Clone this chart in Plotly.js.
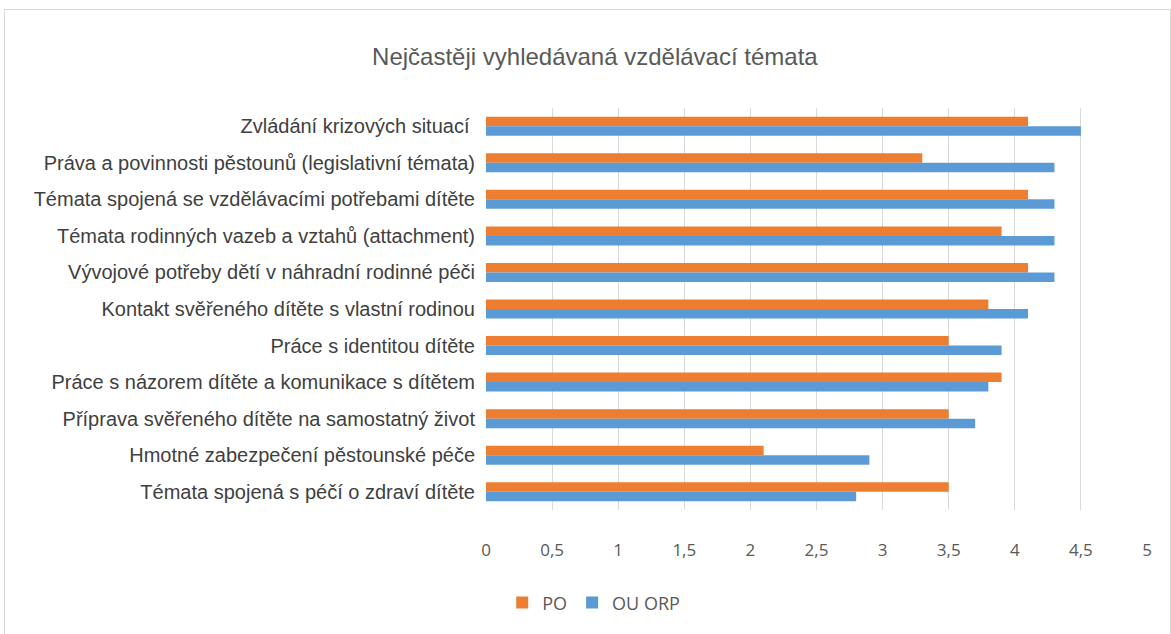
<!DOCTYPE html>
<html><head><meta charset="utf-8">
<script src="https://cdn.plot.ly/plotly-3.0.1.min.js"></script>
<style>body{margin:0;padding:0;background:#fff}#wrap{position:relative;width:1171px;height:634px}#chart{width:1171px;height:634px}#frame{position:absolute;left:4px;top:9px;width:1165px;height:630px;border:1px solid #d9d9d9;pointer-events:none}</style>
</head><body><div id="wrap"><div id="chart"></div><div id="frame"></div></div>
<script>
const categories = [
  "Zvládání krizových situací ",
  "Práva a povinnosti pěstounů (legislativní témata)",
  "Témata spojená se vzdělávacími potřebami dítěte",
  "Témata rodinných vazeb a vztahů (attachment)",
  "Vývojové potřeby dětí v náhradní rodinné péči",
  "Kontakt svěřeného dítěte s vlastní rodinou",
  "Práce s identitou dítěte",
  "Práce s názorem dítěte a komunikace s dítětem",
  "Příprava svěřeného dítěte na samostatný život",
  "Hmotné zabezpečení pěstounské péče",
  "Témata spojená s péčí o zdraví dítěte"
];
const po    = [4.1, 3.3, 4.1, 3.9, 4.1, 3.8, 3.5, 3.9, 3.5, 2.1, 3.5];
const ouOrp = [4.5, 4.3, 4.3, 4.3, 4.3, 4.1, 3.9, 3.8, 3.7, 2.9, 2.8];
const tickVals = [0, 0.5, 1, 1.5, 2, 2.5, 3, 3.5, 4, 4.5, 5];
const tickText = ["0", "0,5", "1", "1,5", "2", "2,5", "3", "3,5", "4", "4,5", "5"];

const font = "'Liberation Sans', Arial, sans-serif";
const data = [
  {type:'bar', orientation:'h', name:'PO', y:categories, x:po, marker:{color:'#ED7D31'}, hoverinfo:'x'},
  {type:'bar', orientation:'h', name:'OU ORP', y:categories, x:ouOrp, marker:{color:'#5B9BD5'}, hoverinfo:'x'}
];
const layout = {
  width:1171, height:634,
  margin:{l:486, r:24, t:108, b:124},
  paper_bgcolor:'#fff', plot_bgcolor:'#fff',
  barmode:'group', bargap:0.48, bargroupgap:0,
  font:{family:font, color:'#595959'},
  title:{text:'Nejčastěji vyhledávaná vzdělávací témata', font:{size:24, color:'#595959', family:font},
         xref:'container', x:0.508, xanchor:'center', yref:'container', y:0.91, yanchor:'middle'},
  xaxis:{range:[0,5], tickvals:tickVals, ticktext:tickText, showgrid:true, gridcolor:'#d9d9d9', gridwidth:1,
         zeroline:false, showline:false, ticks:'outside', ticklen:25, tickcolor:'rgba(0,0,0,0)',
         tickfont:{size:17, color:'#595959', family:"'Open Sans', sans-serif"}, fixedrange:true},
  yaxis:{autorange:'reversed', type:'category', showgrid:false, zeroline:false, showline:false,
         ticks:'outside', ticklen:6, tickcolor:'rgba(0,0,0,0)', tickfont:{size:20, color:'#404040', family:font}, fixedrange:true},
  legend:{orientation:'h', x:0.163, xanchor:'center', y:-0.231, yanchor:'middle', itemwidth:30,
          font:{size:18, color:'#595959', family:"'Open Sans', sans-serif"}, traceorder:'normal'},
  showlegend:true
};
Plotly.newPlot('chart', data, layout, {displayModeBar:false, staticPlot:true});
</script></body></html>
